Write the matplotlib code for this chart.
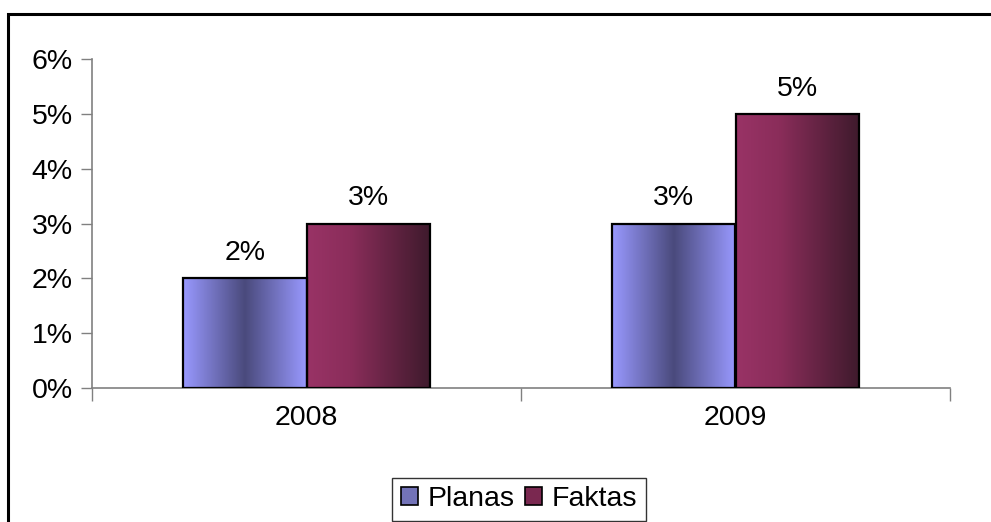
import matplotlib.pyplot as plt
import numpy as np
from matplotlib.colors import LinearSegmentedColormap
from matplotlib.patches import Rectangle

plt.rcParams['font.family'] = ['Liberation Sans', 'DejaVu Sans']

years = ['2008', '2009']
planas = [2, 3]
faktas = [3, 5]
series_names = ['Planas', 'Faktas']
yticks = [0, 1, 2, 3, 4, 5, 6]

W, H = 991, 522
fig = plt.figure(figsize=(W / 100, H / 100), dpi=100)
ax = fig.add_axes([92 / W, (H - 388) / H, (950 - 92) / W, (388 - 59) / H])

# outer chart frame, running off the right and bottom edge
fig.patches.append(Rectangle((8 / W, -0.1), 1.2, (H - 14) / H + 0.1,
                             transform=fig.transFigure, fill=False,
                             edgecolor='black', linewidth=2.2))

cm_plan = LinearSegmentedColormap.from_list(
    'plan', [(0, '#9999ff'), (0.5, '#4a4a7c'), (1, '#9999ff')])
cm_fakt = LinearSegmentedColormap.from_list(
    'fakt', [(0, '#993366'), (0.35, '#8a2d5a'), (1, '#3e1a2c')])

bw = 0.287
x = np.arange(len(years))
grad = np.linspace(0, 1, 256).reshape(1, -1)

for vals, off, cmap in [(planas, -bw / 2, cm_plan), (faktas, bw / 2, cm_fakt)]:
    bars = ax.bar(x + off, vals, bw, facecolor='none', edgecolor='black',
                  linewidth=1.6, zorder=3)
    for b, v in zip(bars, vals):
        x0 = b.get_x()
        im = ax.imshow(grad, cmap=cmap, aspect='auto', zorder=2,
                       extent=(x0, x0 + bw, 0, v))
        im.set_clip_path(b)
        ax.text(x0 + bw / 2, v + 0.22, f'{v}%', ha='center', va='bottom',
                fontsize=20.5)

ax.set_xlim(-0.5, 1.5)
ax.set_ylim(0, 6)
ax.set_yticks(yticks)
ax.set_yticklabels([f'{t}%' for t in yticks], fontsize=20.5)
ax.set_xticks([-0.5, 0.5, 1.5], minor=False)
ax.set_xticklabels(['', '', ''])
ax.set_xticks(x, minor=True)
ax.set_xticklabels(years, minor=True, fontsize=20.5)
ax.tick_params(axis='x', which='minor', length=0, pad=12)
ax.tick_params(axis='x', which='major', length=9, width=1, color='#808080',
               direction='out')
ax.tick_params(axis='y', length=8, width=1, color='#808080', direction='out', pad=6)
for s in ['top', 'right']:
    ax.spines[s].set_visible(False)
for s in ['left', 'bottom']:
    ax.spines[s].set_color('#808080')
    ax.spines[s].set_linewidth(1.2)

handles = [Rectangle((0, 0), 1, 1, facecolor='#7373b8', edgecolor='black', linewidth=1.2),
           Rectangle((0, 0), 1, 1, facecolor='#7a2850', edgecolor='black', linewidth=1.2)]
leg = fig.legend(handles, series_names, loc='lower left',
                 bbox_to_anchor=(392 / W, (H - 521) / H), ncol=2, fontsize=20.5,
                 frameon=True, fancybox=False, edgecolor='black',
                 handlelength=0.6, handleheight=0.6, handletextpad=0.35,
                 columnspacing=0.35, borderpad=0.3, borderaxespad=0)
leg.get_frame().set_linewidth(1)

fig.savefig('out.png', dpi=100)
